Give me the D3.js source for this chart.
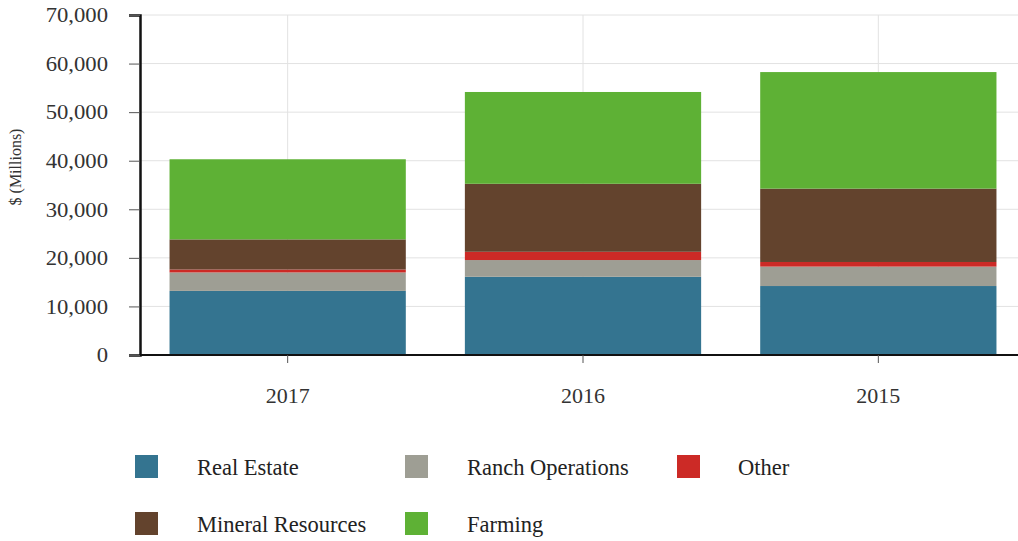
<!DOCTYPE html>
<html><head><meta charset="utf-8">
<script src="https://cdn.jsdelivr.net/npm/d3@7"></script>
<style>body{margin:0;background:#fff}svg{display:block}svg text{font-family:"Liberation Serif","DejaVu Serif",serif !important}</style>
</head><body><svg id="c" width="1018" height="541"></svg>
<script>
const categories = ["2017", "2016", "2015"];
const seriesNames = ["Real Estate", "Ranch Operations", "Other", "Mineral Resources", "Farming"];
const realEstate = [13200, 16100, 14200];
const ranchOperations = [3800, 3450, 4000];
const other = [600, 1700, 950];
const mineralResources = [6200, 14000, 15100];
const farming = [16500, 18900, 24000];
const yTicks = [0, 10000, 20000, 30000, 40000, 50000, 60000, 70000];
const colors = ["#347490", "#9e9e94", "#cc2a26", "#63432d", "#5eb135"];

const seriesVals = [realEstate, ranchOperations, other, mineralResources, farming];
const rows = categories.map((c, i) => {
  const r = {cat: c};
  seriesNames.forEach((s, j) => r[s] = seriesVals[j][i]);
  return r;
});
const stack = d3.stack().keys(seriesNames)(rows);

const svg = d3.select("#c");
const mLeft = 140, mRight = 1026, mTop = 15, mBottom = 355;
const x = d3.scaleBand().domain(categories).range([mLeft, mRight]).paddingInner(0.2).paddingOuter(0.1);
const y = d3.scaleLinear().domain([0, 70000]).range([mBottom, mTop]);

// grid
svg.append("g").selectAll("line").data(yTicks.slice(1)).join("line")
  .attr("x1", mLeft).attr("x2", 1018).attr("y1", d => y(d)).attr("y2", d => y(d))
  .attr("stroke", "#e2e2e2").attr("stroke-width", 1);
svg.append("g").selectAll("line").data(categories).join("line")
  .attr("x1", d => x(d) + x.bandwidth() / 2).attr("x2", d => x(d) + x.bandwidth() / 2)
  .attr("y1", mTop).attr("y2", mBottom).attr("stroke", "#e2e2e2");

// bars
svg.append("g").selectAll("g").data(stack).join("g")
  .attr("fill", (d, i) => colors[i])
  .selectAll("rect").data(d => d).join("rect")
  .attr("x", d => x(d.data.cat)).attr("width", x.bandwidth())
  .attr("y", d => y(d[1])).attr("height", d => y(d[0]) - y(d[1]));

// y axis
const sx = 1.08;
const ya = svg.append("g").attr("transform", `translate(${mLeft},0)`)
  .call(d3.axisLeft(y).tickValues(yTicks).tickFormat(d3.format(",")).tickSize(11).tickPadding(20));
ya.attr("font-size", 21);
ya.select(".domain").attr("stroke", "#111").attr("stroke-width", 2.5);
ya.selectAll(".tick line").attr("stroke", "#555");
ya.selectAll("text").attr("fill", "#333").attr("transform", `scale(${sx},1)`).attr("text-anchor", "end")
  .attr("x", -32 / sx);

// x axis
const xa = svg.append("g").attr("transform", `translate(0,${mBottom})`)
  .call(d3.axisBottom(x).tickSize(8).tickPadding(24));
xa.attr("font-size", 22);
xa.select(".domain").attr("d", `M${mLeft},0H1018`).attr("stroke", "#111").attr("stroke-width", 2);
xa.selectAll(".tick line").attr("stroke", "#555");
xa.selectAll("text").attr("fill", "#333");

svg.append("text").attr("transform", `translate(21,167) rotate(-90)`)
  .attr("text-anchor", "middle").attr("font-size", 16).attr("fill", "#333").text("$ (Millions)");

// legend
const legPos = [[135, 455], [405, 455], [677, 455], [135, 512], [405, 512]];
const lg = svg.append("g").selectAll("g").data(seriesNames).join("g")
  .attr("transform", (d, i) => `translate(${legPos[i][0]},${legPos[i][1]})`);
lg.append("rect").attr("width", 23).attr("height", 23).attr("fill", (d, i) => colors[i]);
lg.append("text").attr("x", (d, i) => i === 2 ? 61 : 62).attr("y", 12).attr("dy", "0.35em")
  .attr("font-size", 22.5).attr("fill", "#222").text(d => d);
</script></body></html>
